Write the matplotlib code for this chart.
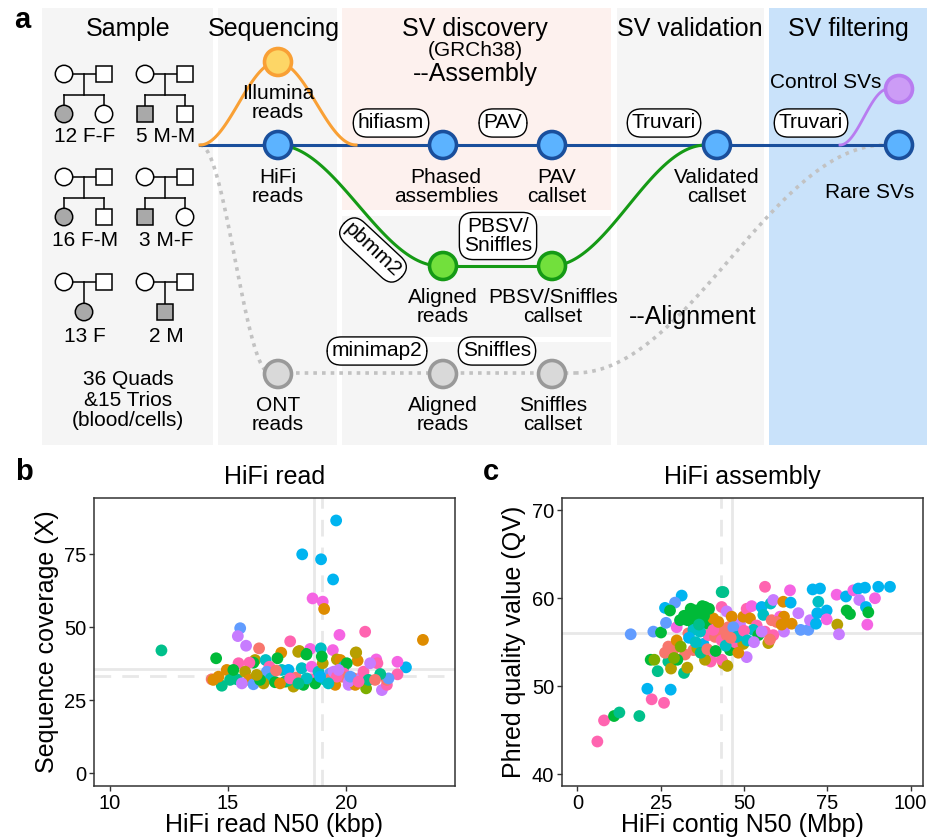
import numpy as np
import matplotlib.pyplot as plt
from matplotlib.patches import Circle, Rectangle

plt.rcParams['font.family'] = ['Liberation Sans', 'DejaVu Sans']

# ggplot style hue palette, one colour per family group
fam_colors = ["#F8766D", "#DE8C00", "#B79F00", "#7CAE00", "#00BA38", "#00C08B",
              "#00BFC4", "#00B4F0", "#619CFF", "#C77CFF", "#F564E3", "#FF64B0"]

# ---- panel b: HiFi read N50 (kbp), coverage (X), family group
read_pts = [
    (12.18, 42.1, 5), (19.59, 86.6, 7), (18.15, 75.0, 7), (18.95, 73.3, 7), (19.46, 66.4, 7),
    (18.59, 59.9, 10), (19.02, 58.8, 10), (19.08, 56.3, 1), (15.52, 49.7, 8), (15.42, 47.0, 9),
    (15.77, 43.7, 9), (16.32, 42.8, 0), (17.64, 45.2, 11), (19.73, 47.4, 10), (20.82, 48.5, 11),
    (23.27, 45.7, 1), (22.55, 36.3, 7), (22.19, 38.2, 10), (22.19, 33.9, 11), (14.50, 39.4, 4),
    (14.74, 30.0, 5), (14.31, 32.2, 0), (18.03, 41.9, 2), (18.49, 42.6, 10), (18.32, 40.9, 4),
    (18.94, 42.8, 6), (19.45, 42.2, 10), (20.44, 41.4, 2), (20.50, 38.6, 1), (21.29, 39.0, 10),
    (21.34, 37.7, 11), (20.86, 29.1, 3), (21.53, 28.5, 9), (21.74, 30.3, 11), (21.74, 32.0, 0),
    (21.81, 32.5, 8), (21.46, 34.0, 5), (17.26, 41.3, 1), (17.10, 39.4, 4), (16.15, 38.8, 2),
    (16.08, 37.9, 4), (15.91, 37.9, 11), (15.45, 37.7, 11), (14.95, 35.4, 1), (15.38, 32.2, 5),
    (15.73, 34.8, 2), (15.91, 32.0, 1), (16.08, 30.5, 8), (16.60, 38.8, 6), (16.76, 36.5, 11),
    (16.65, 34.8, 8), (16.82, 32.5, 6), (16.51, 30.8, 2), (17.00, 31.2, 4), (17.43, 31.4, 4),
    (17.28, 35.4, 6), (17.57, 35.4, 7), (17.89, 32.8, 0), (17.78, 29.7, 2), (18.20, 30.3, 4),
    (18.13, 36.0, 6), (18.55, 36.5, 10), (18.55, 32.2, 11), (18.70, 30.8, 4), (18.84, 34.8, 6),
    (19.02, 37.7, 2), (18.98, 40.0, 4), (19.12, 32.0, 6), (19.33, 34.2, 8), (19.31, 32.2, 0),
    (19.48, 34.8, 9), (19.62, 39.0, 2), (19.77, 38.8, 1), (19.91, 36.5, 6), (20.04, 37.7, 4),
    (19.91, 34.2, 11), (19.84, 33.1, 0), (19.55, 30.3, 1), (20.12, 30.3, 9), (20.33, 32.5, 0),
    (20.40, 30.3, 1), (20.69, 33.1, 9), (20.75, 34.8, 11), (21.03, 37.7, 9), (20.96, 32.0, 5),
    (21.24, 32.0, 0), (14.38, 32.0, 1), (14.60, 33.1, 1), (15.09, 32.0, 5), (15.23, 35.4, 4),
    (15.59, 30.8, 9), (17.52, 31.7, 5), (17.04, 35.2, 0), (17.21, 30.8, 1), (17.64, 32.5, 11),
    (19.62, 33.1, 11), (20.12, 31.4, 9), (19.69, 35.4, 9), (18.91, 33.1, 7), (18.34, 32.5, 6),
    (17.99, 30.8, 5), (16.36, 32.0, 4), (16.22, 33.7, 2), (19.26, 30.8, 6), (20.19, 33.1, 8),
    (20.54, 31.4, 11), (17.98, 41.6, 2), (18.33, 40.7, 4), (20.42, 41.3, 2),
]
read_n50 = [p[0] for p in read_pts]
read_cov = [p[1] for p in read_pts]
read_fam = [p[2] for p in read_pts]

# ---- panel c: contig N50 (Mbp), QV, family group
asm_pts = [
    (6.0, 43.7, 11), (8.0, 46.1, 11), (11.0, 46.6, 4), (12.6, 47.0, 5), (18.6, 46.6, 5),
    (21.0, 49.7, 7), (28.0, 49.6, 7), (22.3, 48.5, 11), (26.0, 48.1, 11), (16.0, 55.9, 8),
    (22.8, 56.2, 8), (25.1, 56.1, 4), (22.0, 53.0, 4), (23.1, 53.0, 3), (24.1, 51.7, 5),
    (27.3, 52.8, 5), (28.1, 52.0, 2), (32.0, 51.5, 5), (33.0, 52.1, 2), (31.3, 60.3, 7),
    (26.3, 58.9, 7), (29.3, 59.5, 8), (27.8, 58.6, 4), (26.6, 57.2, 8), (29.8, 56.7, 10),
    (30.8, 57.5, 4), (33.8, 58.3, 4), (35.3, 58.6, 4), (36.8, 58.2, 4), (38.3, 59.0, 4),
    (39.3, 58.6, 5), (34.8, 57.1, 4), (37.3, 57.3, 6), (38.8, 57.1, 4), (40.8, 57.7, 1),
    (43.3, 60.7, 5), (43.3, 59.0, 11), (44.8, 58.5, 9), (26.3, 53.8, 0), (27.3, 54.5, 0),
    (28.8, 54.1, 0), (29.8, 55.2, 1), (32.3, 53.6, 0), (33.3, 56.0, 0), (34.8, 54.1, 0),
    (36.0, 54.3, 2), (37.8, 54.8, 7), (39.3, 55.8, 11), (40.0, 53.4, 10), (40.0, 52.8, 11),
    (38.3, 53.0, 2), (41.3, 55.6, 0), (42.3, 56.0, 0), (43.8, 56.4, 0), (43.3, 55.2, 11),
    (45.3, 56.7, 0), (44.8, 55.8, 0), (43.8, 52.6, 2), (43.3, 53.0, 11), (45.8, 54.1, 4),
    (47.3, 55.0, 11), (47.8, 56.2, 1), (48.8, 57.1, 9), (49.8, 54.8, 2), (50.8, 53.3, 9),
    (49.8, 57.9, 1), (50.8, 58.8, 11), (52.3, 59.1, 10), (51.8, 57.7, 1), (53.8, 56.9, 11),
    (55.3, 59.0, 7), (56.3, 61.3, 11), (58.0, 59.4, 6), (58.8, 59.8, 9), (56.3, 56.2, 11),
    (57.3, 54.9, 2), (55.8, 58.1, 6), (58.3, 57.5, 0), (60.8, 57.9, 10), (61.8, 59.6, 1),
    (62.0, 57.9, 1), (62.0, 56.2, 9), (63.8, 60.9, 10), (64.0, 59.5, 7), (64.3, 57.1, 1),
    (66.3, 58.3, 9), (67.0, 56.4, 8), (69.3, 56.4, 8), (69.8, 57.5, 9), (70.6, 61.0, 7),
    (72.8, 61.1, 7), (72.3, 59.6, 6), (72.0, 58.3, 7), (71.6, 57.1, 7), (74.8, 58.6, 7),
    (74.8, 57.6, 10), (77.8, 60.4, 10), (78.0, 57.0, 2), (78.5, 55.9, 9), (80.6, 60.2, 7),
    (80.8, 58.6, 4), (81.8, 58.2, 4), (82.8, 60.9, 10), (84.3, 61.1, 7), (86.3, 61.2, 7),
    (84.6, 59.8, 9), (86.6, 59.0, 7), (87.3, 58.4, 4), (87.0, 57.0, 10), (89.3, 60.0, 10),
    (90.3, 61.3, 7), (93.8, 61.3, 7), (34.8, 56.4, 6), (36.8, 56.2, 6), (40.8, 56.4, 11),
    (42.3, 57.3, 1), (46.3, 57.9, 1), (46.8, 56.7, 8), (47.8, 55.6, 6), (49.3, 55.8, 6),
    (52.8, 56.4, 6), (54.3, 55.8, 4), (55.3, 56.2, 9), (59.8, 57.3, 0), (58.8, 55.8, 11),
    (61.3, 57.0, 1), (43.8, 60.7, 5), (36.0, 58.6, 4), (37.5, 59.1, 4), (35.0, 57.8, 4),
    (38.0, 58.0, 4), (36.5, 57.0, 5), (34.0, 58.8, 4), (39.5, 58.8, 4), (30.0, 53.0, 4),
    (31.0, 54.5, 3), (33.5, 55.5, 7), (35.5, 55.0, 6), (37.0, 53.8, 5), (39.0, 54.2, 0),
    (41.5, 54.0, 4), (44.5, 54.6, 6), (46.0, 55.5, 0), (48.3, 53.8, 1), (50.0, 56.3, 11),
    (51.0, 55.2, 6), (53.0, 55.0, 9), (57.8, 55.3, 0), (29.0, 53.2, 3), (45.0, 52.3, 2),
    (33.0, 57.5, 4), (32.0, 58.0, 4),
]
contig_n50 = [p[0] for p in asm_pts]
contig_qv = [p[1] for p in asm_pts]
contig_fam = [p[2] for p in asm_pts]

# median / mean reference lines
read_vlines = [18.63, 18.97]
read_hlines = [35.7, 33.3]
asm_vlines = [46.3, 43.1]
asm_hlines = [56.1]

fig = plt.figure(figsize=(9.28, 8.4), dpi=100)

# =================== panel a (schematic, pixel-like coords) ===================
ax = fig.add_axes([0, 1 - 450 / 840, 1, 450 / 840])
ax.set_xlim(0, 928)
ax.set_ylim(450, 0)
ax.axis('off')

# column backgrounds: (x0, y0, x1, y1, colour)
bg_boxes = [
    (42, 8, 213, 445, '#f5f5f5'),
    (218, 8, 337, 445, '#f5f5f5'),
    (342, 8, 611, 210, '#fdf1ee'),
    (342, 216, 611, 337, '#f5f5f5'),
    (342, 342, 611, 445, '#f5f5f5'),
    (617, 8, 764, 445, '#f5f5f5'),
    (769, 8, 928, 445, '#c9e2fa'),
]
for x0, y0, x1, y1, c in bg_boxes:
    ax.add_patch(Rectangle((x0, y0), x1 - x0, y1 - y0, fc=c, ec='none', zorder=0))

headers = [("Sample", 128), ("Sequencing", 274), ("SV discovery", 475),
           ("SV validation", 690), ("SV filtering", 848)]
for t, x in headers:
    ax.text(x, 36, t, fontsize=18, ha='center', va='baseline')
ax.text(475, 56, "(GRCh38)", fontsize=15, ha='center', va='baseline')
ax.text(475, 81, "--Assembly", fontsize=18, ha='center', va='baseline')
ax.text(693, 317, "--Alignment", fontsize=18, ha='center', va='center')
ax.text(22, 28, "a", fontsize=21, fontweight='bold', ha='center', va='baseline')


def s_curve(x0, y0, x1, y1, n=60):
    t = np.linspace(0, 1, n)
    return x0 + (x1 - x0) * t, y0 + (y1 - y0) * (1 - np.cos(np.pi * t)) / 2


blue_dk, green_dk, orange, gray_ln, purple = '#1a4f9c', '#159a15', '#f9a035', '#c2c2c2', '#b87cf0'

# connectors
ax.plot([200, 898], [145, 145], color=blue_dk, lw=2.2, zorder=2)
for seg in [(200, 145, 277, 62), (277, 62, 356, 145)]:
    ax.plot(*s_curve(*seg), color=orange, lw=2.2, zorder=2)
for seg in [(277, 145, 440, 266), (440, 266, 551, 266), (551, 266, 706, 145)]:
    ax.plot(*s_curve(*seg), color=green_dk, lw=2.2, zorder=2)
for seg in [(200, 145, 270, 373), (270, 373, 575, 373), (575, 373, 885, 145)]:
    ax.plot(*s_curve(*seg), color=gray_ln, lw=2.6, ls=(0, (1, 1.4)), zorder=1.5)
ax.plot(*s_curve(840, 145, 888, 89), color=purple, lw=2.0, zorder=2)

# nodes: x, y, face, edge
nodes = [
    (278, 62, '#fdd666', orange), (278, 145, '#5cb3ff', blue_dk),
    (443, 145, '#5cb3ff', blue_dk), (552, 145, '#5cb3ff', blue_dk),
    (717, 145, '#5cb3ff', blue_dk), (899, 145, '#5cb3ff', blue_dk),
    (899, 89, '#cc9cf6', purple),
    (443, 266, '#72e03c', green_dk), (552, 266, '#72e03c', green_dk),
    (278, 374, '#d9d9d9', '#999999'), (443, 374, '#d9d9d9', '#999999'),
    (552, 374, '#d9d9d9', '#999999'),
]
for x, y, fc, ec in nodes:
    ax.add_patch(Circle((x, y), 13.5, fc=fc, ec=ec, lw=2.6, zorder=4))

node_labels = [
    (278, 103, "Illumina\nreads"), (278, 187, "HiFi\nreads"), (278, 415, "ONT\nreads"),
    (446, 187, "Phased\nassemblies"), (557, 187, "PAV\ncallset"),
    (443, 307, "Aligned\nreads"), (553, 307, "PBSV/Sniffles\ncallset"),
    (443, 415, "Aligned\nreads"), (553, 415, "Sniffles\ncallset"),
    (717, 187, "Validated\ncallset"), (870, 193, "Rare SVs"), (826, 82, "Control SVs"),
]
for x, y, t in node_labels:
    ax.text(x, y, t, fontsize=15, ha='center', va='center', linespacing=1.0, zorder=5)

# tool pills
pills = [(391, 123, "hifiasm", 0), (503, 123, "PAV", 0), (664, 123, "Truvari", 0),
         (811, 123, "Truvari", 0), (498, 236, "PBSV/\nSniffles", 0), (373, 250, "pbmm2", -43),
         (377, 351, "minimap2", 0), (497, 351, "Sniffles", 0)]
for x, y, t, rot in pills:
    ax.text(x, y, t, fontsize=15, ha='center', va='center', rotation=rot,
            rotation_mode='anchor', linespacing=1.0, zorder=6,
            bbox=dict(boxstyle='round,pad=0.22,rounding_size=0.68', fc='white', ec='black', lw=1.0))

# pedigrees: left parent x, parents y, kids ('F'/'M', affected), label, label y
pedigrees = [
    (64, 74, [('F', True), ('F', False)], "12 F-F", 137),
    (145, 74, [('M', True), ('M', False)], "5 M-M", 137),
    (64, 177, [('F', True), ('M', False)], "16 F-M", 241),
    (145, 177, [('M', True), ('F', False)], "3 M-F", 241),
    (64, 282, [('F', True)], "13 F", 337),
    (145, 282, [('M', True)], "2 M", 337),
]
r, side = 8.7, 15.5


def draw_person(x, y, sex, affected):
    fc = '#a9a9a9' if affected else 'white'
    if sex == 'F':
        ax.add_patch(Circle((x, y), r, fc=fc, ec='black', lw=1.1, zorder=3))
    else:
        ax.add_patch(Rectangle((x - side / 2, y - side / 2), side, side, fc=fc, ec='black', lw=1.1, zorder=3))


for px, py, kids, lab, ly in pedigrees:
    mx = px + 20
    ax.plot([px, px + 40], [py, py], color='black', lw=1.1, zorder=2)
    if len(kids) == 2:
        ax.plot([mx, mx], [py, py + 21], color='black', lw=1.1, zorder=2)
        ax.plot([px, px + 40], [py + 21, py + 21], color='black', lw=1.1, zorder=2)
        for k, (sex, aff) in enumerate(kids):
            kx = px + 40 * k
            ax.plot([kx, kx], [py + 21, py + 40], color='black', lw=1.1, zorder=2)
            draw_person(kx, py + 40, sex, aff)
    else:
        ax.plot([mx, mx], [py, py + 30], color='black', lw=1.1, zorder=2)
        draw_person(mx, py + 30, kids[0][0], kids[0][1])
    draw_person(px, py, 'F', False)
    draw_person(px + 40, py, 'M', False)
    ax.text(mx + 1, ly, lab, fontsize=15, ha='center', va='center')

ax.text(128, 400, "36 Quads\n&15 Trios\n(blood/cells)", fontsize=15, ha='center',
        va='center', linespacing=1.1)


# =================== panels b and c ===================
def style_axes(a):
    for s in a.spines.values():
        s.set_color('#333333')
        s.set_linewidth(1.1)
    a.tick_params(colors='#333333', labelcolor='black', labelsize=14.5, length=3.5, width=1.0, pad=2)


axb = fig.add_axes([94 / 928, 54 / 840, 361 / 928, 288 / 840])
axb.scatter(read_n50, read_cov, c=[fam_colors[f] for f in read_fam], s=72, lw=0, zorder=3)
axb.axvline(read_vlines[0], color='#e8e8e8', lw=2, zorder=1)
axb.axvline(read_vlines[1], color='#e8e8e8', lw=2, ls=(0, (6, 4)), zorder=1)
axb.axhline(read_hlines[0], color='#e8e8e8', lw=2, zorder=1)
axb.axhline(read_hlines[1], color='#e8e8e8', lw=2, ls=(0, (6, 4)), zorder=1)
axb.set_xlim(9.32, 24.63)
axb.set_ylim(-4.35, 94.3)
axb.set_xticks([10, 15, 20])
axb.set_yticks([0, 25, 50, 75])
style_axes(axb)
axb.set_xlabel("HiFi read N50 (kbp)", fontsize=18, labelpad=0)
axb.set_ylabel("Sequence coverage (X)", fontsize=18, labelpad=4)
axb.set_title("HiFi read", fontsize=18, pad=10)
fig.text(24 / 928, 1 - 480 / 840, "b", fontsize=21, fontweight='bold', ha='center')

axc = fig.add_axes([561.7 / 928, 54 / 840, 361.6 / 928, 288 / 840])
axc.scatter(contig_n50, contig_qv, c=[fam_colors[f] for f in contig_fam], s=72, lw=0, zorder=3)
axc.axvline(asm_vlines[0], color='#e8e8e8', lw=2, zorder=1)
axc.axvline(asm_vlines[1], color='#e8e8e8', lw=2, ls=(0, (6, 4)), zorder=1)
axc.axhline(asm_hlines[0], color='#e8e8e8', lw=2, zorder=1)
axc.set_xlim(-4.7, 103.8)
axc.set_ylim(38.64, 71.4)
axc.set_xticks([0, 25, 50, 75, 100])
axc.set_yticks([40, 50, 60, 70])
style_axes(axc)
axc.set_xlabel("HiFi contig N50 (Mbp)", fontsize=18, labelpad=0)
axc.set_ylabel("Phred quality value (QV)", fontsize=18, labelpad=4)
axc.set_title("HiFi assembly", fontsize=18, pad=10)
fig.text(491 / 928, 1 - 480 / 840, "c", fontsize=21, fontweight='bold', ha='center')

fig.savefig("out.png", dpi=100)
